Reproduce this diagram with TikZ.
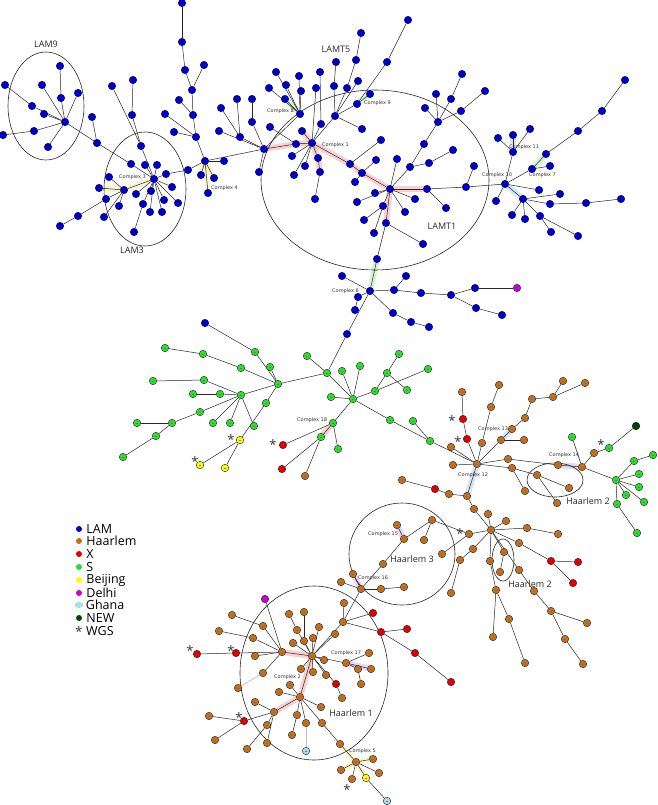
\documentclass[tikz,border=0pt]{standalone}
\usepackage{fontspec}
\setmainfont{Open Sans}
\newfontfamily\cplxfont{DejaVu Sans}
\usepackage{xcolor}
\usepackage{tikz}
\usetikzlibrary{shapes.geometric}
\usetikzlibrary{positioning}
\usetikzlibrary{backgrounds}
\definecolor{lamblue}{RGB}{0,0,190}
\definecolor{haarbrown}{RGB}{200,110,25}
\definecolor{xred}{RGB}{225,0,0}
\definecolor{sgreen}{RGB}{40,225,40}
\definecolor{bjyellow}{RGB}{255,250,0}
\definecolor{dlmagenta}{RGB}{205,0,205}
\definecolor{ghblue}{RGB}{170,220,235}
\definecolor{newgreen}{RGB}{0,70,0}
\definecolor{cplxpink}{RGB}{240,150,150}
\definecolor{cplxyellow}{RGB}{245,235,150}
\definecolor{cplxgreen}{RGB}{160,230,160}
\definecolor{cplxblue}{RGB}{160,200,240}
\definecolor{cplxpurple}{RGB}{200,170,230}
\tikzstyle{isolate} = [circle, minimum size=7.5pt, inner sep=0pt, line width=0.4pt]
\tikzstyle{dashed isolate} = [isolate, path picture={\draw[black!55, line width=0.35pt] ([xshift=-1.2pt]path picture bounding box.center) -- ([xshift=1.2pt]path picture bounding box.center);}]
\tikzstyle{lam} = [isolate, fill=lamblue, draw=lamblue!70!black]
\tikzstyle{haar} = [dashed isolate, fill=haarbrown, draw=black!85]
\tikzstyle{xsit} = [isolate, fill=xred, draw=black!85]
\tikzstyle{sfam} = [dashed isolate, fill=sgreen, draw=black!85]
\tikzstyle{beij} = [dashed isolate, fill=bjyellow, draw=black!85]
\tikzstyle{delhi} = [isolate, fill=dlmagenta, draw=black!85]
\tikzstyle{ghana} = [dashed isolate, fill=ghblue, draw=black!85]
\tikzstyle{newfam} = [isolate, fill=newgreen, draw=black]
\tikzstyle{link} = [black!85, line width=0.5pt]
\tikzstyle{faint} = [black!25, line width=0.7pt]
\tikzstyle{cplx} = [line width=6pt, line cap=round, opacity=0.45]
\tikzstyle{cplxlabel} = [font=\cplxfont\fontsize{5}{6}\selectfont, text=black!80, anchor=west, inner sep=0pt]
\tikzstyle{ring} = [ellipse, draw=black!85, line width=0.6pt, inner sep=0pt, outer sep=0pt]
\tikzstyle{grouplabel} = [font=\fontsize{9}{10}\selectfont, text=black!85, inner sep=0pt]
\tikzstyle{wgs} = [font=\fontsize{13}{13}\selectfont, text=black!80, inner sep=0pt]
\tikzstyle{key} = [circle, minimum size=6pt, inner sep=0pt]
\tikzstyle{keytext} = [font=\fontsize{12.5}{12.5}\selectfont, anchor=west, inner sep=0pt]
\begin{document}
\begin{tikzpicture}[x=1pt, y=-1pt, node distance=4pt]
    \useasboundingbox (0,0) rectangle (657,805);
    \node (lam9ring) [ring, minimum width=76pt, minimum height=108pt] at (46,106) {};
    \node (lam3ring) [ring, minimum width=82pt, minimum height=114pt] at (145,189) {};
    \node (lamt1ring) [ring, minimum width=228pt, minimum height=180pt] at (375,180) {};
    \node (h2ring) [ring, minimum width=56pt, minimum height=34pt] at (555,480) {};
    \node (h2bring) [ring, minimum width=22pt, minimum height=42pt] at (503,560) {};
    \node (h3ring) [ring, minimum width=106pt, minimum height=102pt] at (402,554) {};
    \node (h1ring) [ring, minimum width=148pt, minimum height=174pt] at (314,673) {};
    \node (lam9name) [grouplabel, above=of lam9ring] {LAM9};
    \node (lam3name) [grouplabel, below=1pt of lam3ring, xshift=-13pt] {LAM3};
    \node (lamt5name) [grouplabel] at (336,49) {LAMT5};
    \node (lamt1name) [grouplabel] at (442,226) {LAMT1};
    \node (h2name) [grouplabel] at (588,501) {Haarlem 2};
    \node (h2bname) [grouplabel] at (530,584) {Haarlem 2};
    \node (h3name) [grouplabel] at (412,559) {Haarlem 3};
    \node (h1name) [grouplabel] at (351,713) {Haarlem 1};
    \foreach \n/\x/\y in {1/182/3, 2/182/42, 3/185/70, 4/204/65, 5/192/90, 6/179/100, 7/193/115, 8/165/114, 9/174/132, 10/196/137, 11/205/161, 12/224/161, 13/188/170, 14/201/175, 15/214/178, 16/208/193, 17/65/122, 18/60/66, 19/61/98, 20/42/85, 21/78/93, 22/5/85, 23/32/106, 24/44/114, 25/3/135, 26/34/131, 27/48/147, 28/92/117, 29/97/143, 30/154/179, 31/124/190, 32/112/86, 33/133/80, 34/132/115, 35/141/146, 36/131/164, 37/145/165, 38/157/165, 39/166/174, 40/109/177, 41/99/188, 42/106/199, 43/104/217, 44/119/206, 45/78/216, 46/60/226, 47/136/194, 48/143/204, 49/151/191, 50/150/212, 51/162/212, 52/164/200, 53/172/187, 54/178/203, 55/134/232, 56/264/149, 57/259/172, 58/219/131, 59/240/137, 60/221/108, 61/237/99, 62/252/99, 63/252/122, 64/270/127, 65/296/144, 66/312/143, 67/300/114, 68/276/72, 69/299/76, 70/286/85, 71/269/88, 72/301/91, 73/285/99, 74/316/88, 75/320/72, 76/321/124, 77/302/131, 78/408/20, 79/387/62, 80/361/33, 81/356/60, 82/336/62, 83/334/86, 84/347/88, 85/358/81, 86/370/94, 87/357/104, 88/335/116, 89/362/129, 90/292/156, 91/305/166, 92/294/175, 93/318/158, 94/320/172, 95/315/199, 96/350/164, 97/362/173, 98/381/140, 99/376/160, 100/355/182, 101/390/189, 102/397/159, 103/410/167, 104/424/144, 105/438/122, 106/436/94, 107/451/99, 108/462/74, 109/461/111, 110/485/91, 111/425/108, 112/429/163, 113/453/150, 114/427/189, 115/466/187, 116/474/166, 117/446/208, 118/375/193, 119/357/202, 120/383/206, 121/415/199, 122/405/212, 123/364/220, 124/386/223, 125/374/233, 126/423/244, 127/377/259, 128/505/184, 129/513/152, 130/498/138, 131/513/135, 132/530/129, 133/532/169, 134/550/166, 135/546/154, 136/578/131, 137/602/111, 138/625/80, 139/496/201, 140/539/190, 141/523/199, 142/560/194, 143/550/204, 144/586/203, 145/621/199, 146/512/215, 147/525/219, 148/540/216, 149/551/232, 150/578/236, 151/370/291, 152/342/276, 153/358/297, 154/355/310, 155/347/334, 156/394/290, 157/406/276, 158/421/293, 159/451/295, 160/475/288, 161/476/308, 162/502/315, 163/393/313, 164/411/322, 165/429/327, 166/205/323}
        \node (b\n) [lam] at (\x,\y) {};
    \foreach \n/\x/\y in {1/327/373, 2/307/356, 3/278/384, 4/353/399, 5/342/371, 6/360/366, 7/331/397, 8/375/391, 9/387/373, 10/399/354, 11/407/390, 12/428/369, 13/333/423, 14/321/437, 15/338/449, 16/390/420, 17/413/421, 18/430/441, 19/255/352, 20/270/367, 21/241/368, 22/203/354, 23/165/348, 24/241/395, 25/220/394, 26/193/394, 27/204/380, 28/153/381, 29/266/403, 30/200/412, 31/172/423, 32/137/423, 33/156/436, 34/123/457, 35/213/423, 36/230/423, 37/254/426, 38/572/437, 39/609/448, 40/616/480, 41/634/461, 42/653/455, 43/639/474, 44/639/487, 45/626/495, 46/644/502, 47/617/504, 48/637/533}
        \node (g\n) [sfam] at (\x,\y) {};
    \foreach \n/\x/\y in {1/305/476, 2/477/464, 3/462/392, 4/451/447, 5/453/465, 6/482/443, 7/491/407, 8/499/385, 9/501/440, 10/512/429, 11/525/418, 12/532/399, 13/553/397, 14/563/381, 15/585/383, 16/524/440, 17/508/459, 18/512/468, 19/525/491, 20/558/465, 21/582/467, 22/594/453, 23/537/475, 24/557/503, 25/569/488, 26/402/480, 27/449/494, 28/467/496, 29/474/509, 30/488/514, 31/506/521, 32/491/530, 33/469/534, 34/432/520, 35/397/525, 36/404/539, 37/424/540, 38/383/564, 39/442/554, 40/460/560, 41/451/593, 42/473/549, 43/527/528, 44/558/534, 45/504/552, 46/500/572, 47/490/561, 48/519/570, 49/496/590, 50/509/619, 51/493/637, 52/525/663, 53/534/591, 54/551/611, 55/587/623, 56/565/639, 57/583/664, 58/361/589, 59/353/574, 60/341/582, 61/381/589, 62/404/587, 63/312/656, 64/343/622, 65/344/603, 66/335/634, 67/324/660, 68/346/663, 69/369/653, 70/371/669, 71/358/669, 72/361/684, 73/313/672, 74/326/675, 75/301/669, 76/304/641, 77/313/638, 78/297/630, 79/289/614, 80/304/612, 81/319/627, 82/293/643, 83/282/652, 84/255/656, 85/263/626, 86/232/615, 87/253/638, 88/219/631, 89/263/673, 90/238/688, 91/342/698, 92/300/697, 93/290/685, 94/279/692, 95/321/707, 96/297/715, 97/292/735, 98/306/723, 99/322/723, 100/340/744, 101/356/762, 102/274/712, 103/255/702, 104/209/716, 105/215/740, 106/267/725, 107/247/749, 108/267/743, 109/373/759, 110/379/773, 111/341/770, 112/352/779, 113/519/543}
        \node (h\n) [haar] at (\x,\y) {};
    \foreach \n/\x/\y in {1/283/445, 2/282/469, 3/463/419, 4/467/439, 5/435/489, 6/551/561, 7/578/562, 8/573/583, 9/373/613, 10/381/632, 11/407/629, 12/415/653, 13/451/682, 14/236/653, 15/197/654, 16/244/721, 17/336/684}
        \node (r\n) [xsit] at (\x,\y) {};
    \foreach \n/\x/\y in {1/240/440, 2/200/465, 3/225/468, 4/366/778}
        \node (y\n) [beij] at (\x,\y) {};
    \node (d1) [delhi] at (517,288) {};
    \node (d2) [delhi] at (265,599) {};
    \node (c1) [ghana] at (306,751) {};
    \node (c2) [ghana] at (387,801) {};
    \node (n1) [newfam] at (636,426) {};
    \foreach \n/\x/\y in {1/452/418, 2/458/439, 3/460/531, 4/601/442, 5/231/437, 6/195/459, 7/273/442, 8/190/648, 9/231/648, 10/239/715, 11/347/787}
        \node (s\n) [wgs] at (\x,\y+2.5) {*};
    \node (cx1) [cplxlabel] at (322,145) {Complex 1};
    \node (cx2) [cplxlabel] at (274,677) {Complex 2};
    \node (cx3) [cplxlabel] at (119,177) {Complex 3};
    \node (cx4) [cplxlabel] at (211,188) {Complex 4};
    \node (cx5) [cplxlabel] at (349,751) {Complex 5};
    \node (cx6) [cplxlabel] at (332,291) {Complex 6};
    \node (cx7) [cplxlabel] at (529,175) {Complex 7};
    \node (cx8) [cplxlabel] at (267,111) {Complex 8};
    \node (cx9) [cplxlabel] at (364,103) {Complex 9};
    \node (cx10) [cplxlabel] at (482,175) {Complex 10};
    \node (cx11) [cplxlabel] at (509,147) {Complex 11};
    \node (cx12) [cplxlabel] at (458,475) {Complex 12};
    \node (cx13) [cplxlabel] at (478,429) {Complex 13};
    \node (cx14) [cplxlabel] at (549,455) {Complex 14};
    \node (cx15) [cplxlabel] at (368,534) {Complex 15};
    \node (cx16) [cplxlabel] at (358,578) {Complex 16};
    \node (cx17) [cplxlabel] at (331,653) {Complex 17};
    \node (cx18) [cplxlabel] at (297,420) {Complex 18};
    \node (klam) [key, fill=lamblue] at (79,529) {};
    \node (kham) [key, fill=haarbrown] at (79,541) {};
    \node (kx) [key, fill=xred] at (79,554) {};
    \node (ks) [key, fill=sgreen] at (79,567) {};
    \node (kbj) [key, fill=bjyellow] at (79,580) {};
    \node (kdl) [key, fill=dlmagenta] at (79,593) {};
    \node (kgh) [key, ellipse, minimum width=9pt, minimum height=6pt, fill=ghblue] at (79,605) {};
    \node (knew) [key, fill=newgreen] at (79,618) {};
    \node (kwgs) [wgs] at (79,631.5) {*};
    \node [keytext, right=of klam] {LAM};
    \node [keytext, right=of kham] {Haarlem};
    \node [keytext, right=of kx] {X};
    \node [keytext, right=of ks] {S};
    \node [keytext, right=of kbj] {Beijing};
    \node [keytext, right=of kdl] {Delhi};
    \node [keytext, right=2pt of kgh] {Ghana};
    \node [keytext, right=of knew] {NEW};
    \node [keytext] at (86,631) {WGS};
    \begin{scope}[on background layer]
        \foreach \a/\b in {b56/b65, b65/b66, b66/b96, b96/b97, b97/b101, b101/b114, b66/b93, b93/b94, b101/b124, b66/b77, h63/h83, h63/h92, h92/h102, g13/g14}
            \draw [cplx, cplxpink] (\a) -- (\b);
        \foreach \a/\b in {b41/b31, b31/b30, b11/b16, b11/b15, b11/b14, h101/h100, h101/y4, h101/h111, h101/h109}
            \draw [cplx, cplxyellow] (\a) -- (\b);
        \foreach \a/\b in {b67/b73, b87/b86, b127/b151, b133/b135}
            \draw [cplx, cplxgreen] (\a) -- (\b);
        \foreach \a/\b in {b128/b141, b129/b131, h2/h28, h9/h10}
            \draw [cplx, cplxblue] (\a) -- (\b);
        \foreach \a/\b in {h20/h21, h36/h35, h58/h59, h68/h70}
            \draw [cplx, cplxpurple] (\a) -- (\b);
        \foreach \a/\b in {b1/b2, b2/b3, b3/b5, b4/b5, b5/b7, b6/b7, b7/b10, b8/b10, b9/b10, b10/b11, b11/b12, b11/b14, b11/b15, b11/b16, b39/b13, b13/b11, b11/b56, b17/b19, b19/b18, b17/b20, b17/b21, b22/b23, b23/b17, b17/b24, b25/b26, b26/b17, b17/b27, b17/b29, b28/b29, b29/b36, b32/b35, b33/b34, b34/b35, b35/b30, b36/b30, b37/b30, b38/b30, b39/b30, b30/b31, b31/b40, b31/b41, b31/b42, b31/b43, b31/b44, b42/b45, b45/b46, b30/b47, b30/b48, b30/b49, b30/b50, b30/b51, b30/b52, b30/b53, b30/b54, b48/b55, b56/b57, b56/b58, b60/b59, b61/b59, b59/b56, b62/b63, b63/b56, b56/b65, b64/b65, b65/b66, b56/b67, b67/b68, b67/b69, b67/b70, b67/b71, b67/b72, b67/b73, b66/b77, b66/b76, b76/b75, b66/b74, b66/b88, b66/b90, b66/b91, b66/b92, b66/b93, b93/b94, b94/b95, b66/b96, b96/b97, b97/b101, b88/b83, b83/b82, b88/b84, b84/b81, b81/b80, b88/b85, b88/b89, b88/b87, b87/b86, b87/b79, b79/b78, b98/b96, b99/b97, b100/b97, b101/b118, b101/b119, b101/b120, b120/b123, b120/b125, b101/b124, b124/b127, b124/b126, b101/b122, b101/b121, b101/b102, b101/b103, b103/b104, b104/b105, b105/b106, b105/b107, b107/b108, b105/b109, b109/b110, b105/b111, b103/b112, b112/b113, b101/b114, b114/b115, b115/b116, b114/b117, b115/b128, b128/b129, b129/b130, b129/b131, b129/b132, b128/b133, b133/b134, b133/b135, b135/b136, b136/b137, b137/b138, b128/b139, b128/b140, b128/b141, b141/b142, b141/b143, b143/b144, b144/b145, b141/b146, b141/b147, b141/b148, b148/b149, b148/b150, b127/b151, b152/b151, b151/b153, b153/b154, b151/b155, b151/b156, b156/b157, b156/b158, b158/b159, b159/b160, b160/d1, b159/b161, b161/b162, b151/b163, b163/b164, b164/b165}
            \draw [link] (\a) -- (\b);
        \foreach \a/\b in {b155/g1, g1/g2, g1/g3, g1/g4, g4/g5, g4/g6, g4/g7, g4/g8, g8/g9, g9/g10, g9/g11, g8/g12, g4/g13, g13/g14, g13/r1, g14/r2, g14/h1, g13/g15, g4/g16, g16/g18, g17/g18, g18/h2, g3/g19, g19/b166, g3/g20, g3/g21, g21/g22, g22/g23, g3/g24, g3/g29, g29/y1, y1/y2, y1/y3, g24/g25, g25/g26, g24/g27, g27/g28, g24/g30, g30/g31, g31/g32, g31/g33, g33/g34, g24/g35, g24/g36, g24/g37}
            \draw [link] (\a) -- (\b);
        \foreach \a/\b in {h3/r3, r3/r4, r4/h2, h2/h4, h2/h5, h2/h6, h6/h7, h7/h8, h2/h9, h9/h10, h10/h11, h11/h12, h12/h13, h13/h14, h13/h15, h9/h16, h2/h17, h17/h20, h20/h21, h2/h18, h18/h19, h18/h23, h23/h24, h23/h25, h21/g38, h21/h22, h22/g39, g39/n1, h21/g40, g40/g41, g41/g42, g40/g43, g40/g44, g40/g45, g40/g46, g40/g47, g47/g48, h2/h28, h28/h27, h27/r5, r5/h26, h28/h29, h29/h32, h32/h30, h32/h31, h32/h43, h43/h44, h32/h33, h32/h42, h42/h40, h40/h41, h33/h39, h33/h34, h34/h37, h34/h36, h36/h35, h36/h38, h38/h58, h58/h59, h58/h60, h58/h61, h61/h62, h32/h45, h45/h46, h32/h113, h113/r6, r6/r7, r6/r8, h32/h48, h48/h53, h53/h54, h54/h55, h54/h56, h56/h57, h32/h47, h47/h49, h49/h50, h50/h52, h49/h51, h58/h64, h64/h63, h64/h65, h64/r9, h64/r10, r10/r11, r10/r12, r12/r13, h63/h66, h63/h67, h63/h68, h68/h69, h68/h70, h68/h71, h71/h72, h63/h73, h63/h74, h63/r17, r17/h91, h63/h75, h63/h76, h76/h80, h63/h77, h63/h78, h78/h79, h63/h81, h63/h82, h63/h83, h83/h84, h83/h85, h85/h86, h83/h87, h87/h88, h83/r14, r14/r15, h83/d2, h83/h89, h63/h92, h92/h93, h92/h94, h92/h95, h92/h96, h96/h97, h92/h98, h92/h99, h99/h100, h100/h101, h92/h102, h102/h103, h102/r16, r16/h104, r16/h105, h102/h106, h106/h107, h102/h108, h101/h109, h101/h110, h101/h111, h101/h112, h101/y4, y4/c2}
            \draw [link] (\a) -- (\b);
        \draw [faint] (h89) -- (h90);
        \draw [faint] (h98) -- (c1);
    \end{scope}
\end{tikzpicture}
\end{document}
